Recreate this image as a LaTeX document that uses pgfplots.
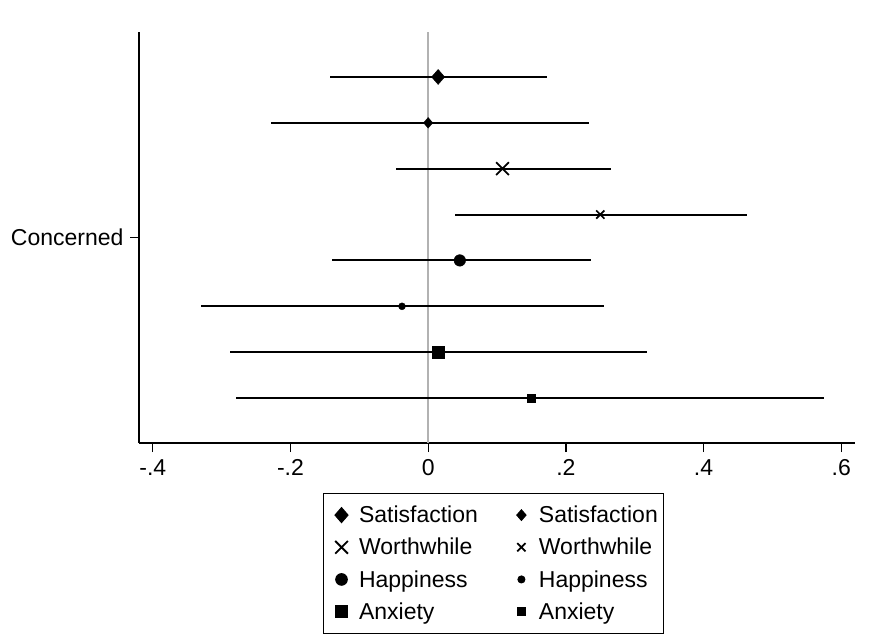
\documentclass[border=0pt]{standalone}
\usepackage{pgfplots}
\pgfplotsset{compat=1.18}
\usepackage{fontspec}
\setmainfont{Liberation Sans}
\pgfdeclareplotmark{wdiamond*}{%
 \pgfpathmoveto{\pgfqpoint{0pt}{\pgfplotmarksize}}%
 \pgfpathlineto{\pgfqpoint{.87\pgfplotmarksize}{0pt}}%
 \pgfpathlineto{\pgfqpoint{0pt}{-\pgfplotmarksize}}%
 \pgfpathlineto{\pgfqpoint{-.87\pgfplotmarksize}{0pt}}%
 \pgfpathclose\pgfusepathqfillstroke}
\begin{document}
\begin{tikzpicture}
\useasboundingbox (0,0) rectangle (874pt,635pt);
\begin{axis}[
  at={(139pt,192pt)}, anchor=south west,
  width=716pt, height=411pt, scale only axis,
  xmin=-0.42, xmax=0.62, ymin=0.02, ymax=8.98,
  axis x line*=bottom, axis y line*=left,
  axis line style={line width=1.5pt, -},
  xtick={-0.4,-0.2,0,0.2,0.4,0.6},
  xticklabels={-.4,-.2,0,.2,.4,.6},
  ytick={4.5}, yticklabels={Concerned},
  tick align=outside, major tick length=9pt,
  tick style={line width=1.3pt, black},
  /pgf/number format/assume math mode=true,
  every tick label/.append style={font=\fontsize{23}{27}\selectfont},
  xticklabel style={yshift=-4pt},
  yticklabel style={xshift=-3pt},
  legend columns=2,
  legend style={at={(0.257,-0.1217)}, anchor=north west, draw=black, line width=1pt,
    font=\fontsize{23}{27}\selectfont, row sep=10pt, inner ysep=10.5pt, inner xsep=3.5pt,
    /tikz/every even column/.append style={column sep=27pt}},
  legend cell align=left,
  legend image code/.code={\path (0pt,0pt) (29pt,0pt);\draw[mark repeat=2,mark phase=2,#1] plot coordinates {(0pt,0pt)(14pt,0pt)(28pt,0pt)};},
  error bars/error bar style={line width=2pt, black},
  error bars/error mark=none,
]
\draw[gray!60, line width=1.8pt] (axis cs:0,0.02) -- (axis cs:0,8.98);
\addplot[only marks, black, mark=wdiamond*, mark size=7.5pt, error bars/.cd, x dir=both, x explicit]
  coordinates {(0.0145,8) += (0.1575,0) -= (0.1565,0)};
\addlegendentry{Satisfaction}
\addplot[only marks, black, mark=wdiamond*, mark size=5.3pt, error bars/.cd, x dir=both, x explicit]
  coordinates {(0.0,7) += (0.233,0) -= (0.228,0)};
\addlegendentry{Satisfaction}
\addplot[only marks, black, mark=x, mark size=9pt, mark options={line width=1.8pt}, error bars/.cd, x dir=both, x explicit]
  coordinates {(0.108,6) += (0.157,0) -= (0.154,0)};
\addlegendentry{Worthwhile}
\addplot[only marks, black, mark=x, mark size=5.8pt, mark options={line width=1.7pt}, error bars/.cd, x dir=both, x explicit]
  coordinates {(0.250,5) += (0.213,0) -= (0.211,0)};
\addlegendentry{Worthwhile}
\addplot[only marks, black, mark=*, mark size=5.8pt, error bars/.cd, x dir=both, x explicit]
  coordinates {(0.046,4) += (0.190,0) -= (0.186,0)};
\addlegendentry{Happiness}
\addplot[only marks, black, mark=*, mark size=3.5pt, error bars/.cd, x dir=both, x explicit]
  coordinates {(-0.038,3) += (0.294,0) -= (0.292,0)};
\addlegendentry{Happiness}
\addplot[only marks, black, mark=square*, mark size=6pt, error bars/.cd, x dir=both, x explicit]
  coordinates {(0.0145,2) += (0.3035,0) -= (0.3025,0)};
\addlegendentry{Anxiety}
\addplot[only marks, black, mark=square*, mark size=4pt, error bars/.cd, x dir=both, x explicit]
  coordinates {(0.149,1) += (0.426,0) -= (0.428,0)};
\addlegendentry{Anxiety}
\end{axis}
\end{tikzpicture}
\end{document}
